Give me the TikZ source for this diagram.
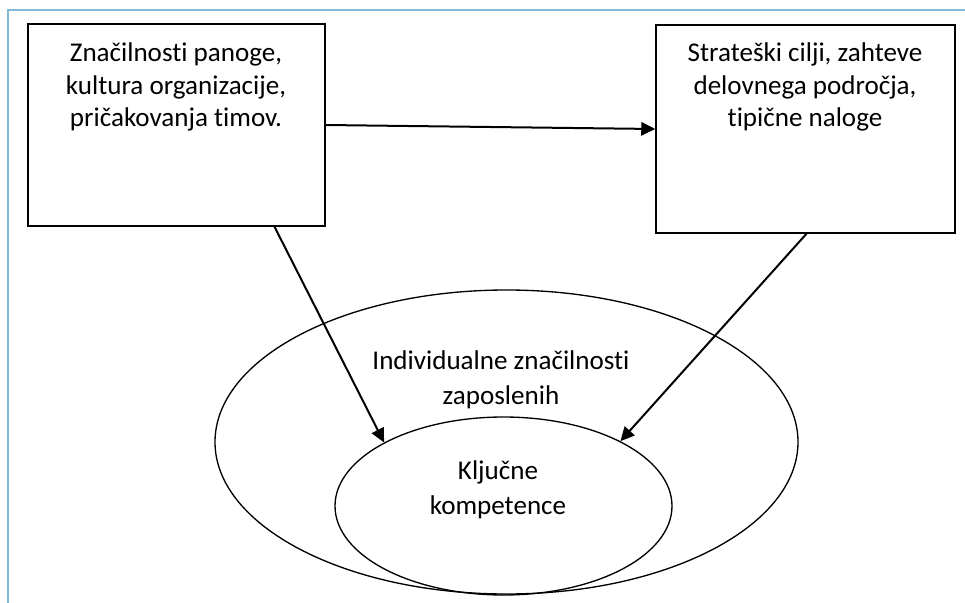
\documentclass[tikz,border=0pt]{standalone}
\usepackage{fontspec}
\setmainfont{Carlito}[Ligatures=NoCommon]
\usetikzlibrary{arrows.meta,shapes.geometric}
\definecolor{frameblue}{RGB}{128,186,214}
\begin{document}
\begin{tikzpicture}[x=0.75pt,y=-0.75pt,
  font=\fontsize{20.3}{25.9}\selectfont,
  frameline/.style={draw=frameblue,line width=1.3pt},
  box/.style={draw,line width=1.1pt,rectangle,inner sep=0pt},
  oval/.style={draw,line width=1pt,ellipse,inner sep=0pt},
  label/.style={align=center,inner sep=0pt},
  boxlabel/.style={label,font=\fontsize{20.3}{24.4}\selectfont},
  link/.style={line width=1.5pt,-{Triangle[length=10.5pt,width=10pt]}}]
  \useasboundingbox (0,0) rectangle (965,603);
  % outer frame edges
  \coordinate (ftl) at (8,10);
  \coordinate (ftr) at (965,10);
  \coordinate (fbl) at (8,603);
  \draw[frameline] (ftr) -- (ftl) -- (fbl);
  % source boxes
  \node[box,minimum width=222.75pt,minimum height=151.5pt] (lbox) at (176.5,125) {};
  \node[box,minimum width=224.25pt,minimum height=156pt] (rbox) at (805.5,129) {};
  \node[boxlabel] (ltext) at (176,87) {Značilnosti panoge,\\kultura organizacije,\\pričakovanja timov.};
  \node[boxlabel] (rtext) at (805,87) {Strateški cilji, zahteve\\delovnega področja,\\tipične naloge};
  % nested ellipses
  \node[oval,minimum width=437.25pt,minimum height=228pt] (outer) at (506.5,442) {};
  \node[oval,minimum width=252.75pt,minimum height=133.5pt] (inner) at (503.5,506) {};
  \node[label] (otext) at (501,380) {Individualne značilnosti\\zaposlenih};
  \node[label] (itext) at (498,490) {Ključne\\kompetence};
  % connectors
  \draw[link] (lbox.east) -- (rbox.west);
  \draw[link] ([xshift=73.5pt]lbox.south) -- (inner.152.2);
  \draw[link] ([xshift=0.75pt]rbox.south) -- (inner.29.4);
\end{tikzpicture}
\end{document}
